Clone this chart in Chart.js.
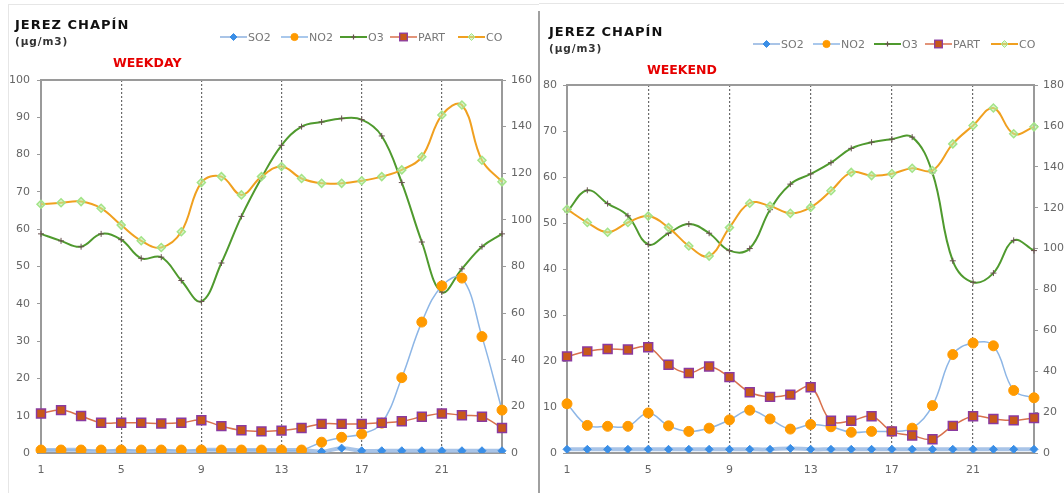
<!DOCTYPE html>
<html>
<head>
<meta charset="utf-8">
<script src="https://cdn.jsdelivr.net/npm/chart.js@4.4.1/dist/chart.umd.min.js"></script>
<style>
html,body{margin:0;padding:0;background:#fff;}
#wrap{position:relative;width:1064px;height:493px;overflow:hidden;background:#fff;font-family:"DejaVu Sans",sans-serif;}
.cv{position:absolute;top:0;}
.t{position:absolute;white-space:nowrap;line-height:1;}
.title{font-weight:bold;font-size:13px;letter-spacing:1px;color:#111;}
.unit{font-size:10.5px;font-weight:bold;letter-spacing:0.9px;color:#333;}
.period{font-weight:bold;font-size:12.5px;color:#e60000;}
.leg{position:absolute;height:12px;display:flex;align-items:center;font-size:11px;color:#777;white-space:nowrap;line-height:1;}
.leg svg{margin-right:1px;}
</style>
</head>
<body>
<div id="wrap">
  <div style="position:absolute;left:8px;top:4px;width:530px;height:495px;border-left:1px solid #e6e6e6;border-top:1px solid #e6e6e6;"></div>
  <div style="position:absolute;left:539px;top:3px;width:530px;height:1px;background:#e6e6e6;"></div>
  <div style="position:absolute;left:538px;top:11px;width:2px;height:490px;background:#a0a0a0;"></div>

  <div class="cv" style="left:0;width:534px;height:493px;"><canvas id="cL" width="534" height="493"></canvas></div>
  <div class="cv" style="left:537px;width:527px;height:493px;"><canvas id="cR" width="527" height="493"></canvas></div>

  <div class="t title" style="left:15px;top:18px;">JEREZ CHAPÍN</div>
  <div class="t unit" style="left:15px;top:36px;">(µg/m3)</div>
  <div class="t period" style="left:113px;top:57px;">WEEKDAY</div>

  <div class="t title" style="left:549px;top:25px;">JEREZ CHAPÍN</div>
  <div class="t unit" style="left:549px;top:43px;">(µg/m3)</div>
  <div class="t period" style="left:647px;top:64px;">WEEKEND</div>

  <div id="legL"></div>
  <div id="legR"></div>
</div>

<script>
// ---- data ----
const HOURS = ['1','2','3','4','5','6','7','8','9','10','11','12','13','14','15','16','17','18','19','20','21','22','23','24'];
const TICK_HOURS = ['1','5','9','13','17','21'];
const SERIES = ['SO2','NO2','O3','PART','CO'];

// WEEKDAY (SO2, NO2, PART, CO on left axis; O3 on right axis)
const wdSO2  = [0.8,0.8,0.8,0,0.8,0,0.8,0,0.8,0.8,0.8,0.8,0.8,0.8,0.4,1.3,0.6,0.6,0.6,0.6,0.6,0.6,0.6,0.6];
const wdNO2  = [0.8,0.8,0.8,0.8,0.8,0.8,0.8,0.8,0.8,0.8,0.8,0.8,0.8,0.8,2.9,4.2,5.1,8.0,20.2,35.1,44.8,46.9,31.2,11.5];
const wdO3   = [94,91,88.5,94,91.5,83.5,84,74,65,81.5,101.5,118,132,140,142,143.5,143,136,116,90.5,69,79,88.5,94];
const wdPART = [10.6,11.5,9.9,8.1,8.1,8.1,7.9,8.1,8.8,7.2,6.1,5.8,6.0,6.7,7.8,7.8,7.8,8.1,8.5,9.7,10.6,10.1,9.7,6.7];
const wdCO   = [66.7,67.1,67.4,65.6,61.1,56.9,55.1,59.3,72.5,74.1,69.2,74.1,76.8,73.6,72.3,72.3,73.0,74.1,75.9,79.4,90.6,93.3,78.5,72.7];

// WEEKEND
const weSO2  = [0.8,0.8,0.8,0.8,0.8,0.8,0.8,0.8,0.8,0.8,0.8,1.0,0.8,0.8,0.8,0.8,0.8,0.8,0.8,0.8,0.8,0.8,0.8,0.8];
const weNO2  = [10.7,6.0,5.8,5.8,8.7,5.9,4.7,5.4,7.2,9.3,7.4,5.2,6.2,5.7,4.5,4.7,4.7,5.4,10.3,21.4,23.9,23.3,13.6,12.0];
const weO3   = [118,128.5,122,116,102,107.5,112,107.5,99,100,119,131.5,136.5,142,149,152,153.5,154.5,137,94,83.5,88,104,99];
const wePART = [21.0,22.1,22.6,22.5,23.0,19.2,17.4,18.8,16.5,13.2,12.2,12.7,14.3,7.0,7.0,8.0,4.7,3.8,3.0,5.9,8.0,7.4,7.1,7.6];
const weCO   = [53.0,50.1,48.0,50.1,51.5,49.0,45.0,42.8,49.0,54.3,53.7,52.1,53.4,57.0,61.0,60.3,60.7,61.9,61.4,67.2,71.2,75.0,69.4,70.9];

// axis ranges
const WD_LEFT = {min:0,max:100,step:10}, WD_RIGHT = {min:0,max:160,step:20};
const WE_LEFT = {min:0,max:80,step:10},  WE_RIGHT = {min:0,max:180,step:20};

// ---- styles ----
const STYLE = {
  SO2:  {line:'rgba(160,190,228,0.9)', lw:4,   ps:'rectRot', r:4,   bg:'#3a8ee6', bc:'#3a8ee6', bw:1, order:2, axis:'y'},
  NO2:  {line:'#8db6e6',               lw:1.5, ps:'circle',  r:5,   bg:'#ff9a00', bc:'#ff9a00', bw:1, order:1, axis:'y'},
  O3:   {line:'#4f9a2e',               lw:2,   ps:'cross',   r:3,   bg:'#6a5050', bc:'#6a5050', bw:1, order:4, axis:'y2'},
  PART: {line:'#d9714c',               lw:1.5, ps:'rect',    r:6.3, bg:'#c8581a', bc:'#8a3aa0', bw:1.5, order:0, axis:'y'},
  CO:   {line:'#f0a020',               lw:2,   ps:'rectRot', r:4,   bg:'rgba(185,238,165,0.55)', bc:'#a3e488', bw:1.5, order:3, axis:'y'}
};

Chart.defaults.font.family = '"DejaVu Sans", sans-serif';

function makeDatasets(vals){
  return SERIES.map((name,i)=>{
    const s = STYLE[name];
    return {
      label:name, data:vals[i], yAxisID:s.axis, order:s.order,
      borderColor:s.line, borderWidth:s.lw, tension:0.4, fill:false,
      pointStyle:s.ps, pointRadius:s.r, pointBackgroundColor:s.bg,
      pointBorderColor:s.bc, pointBorderWidth:s.bw
    };
  });
}

const tickFont = {family:'"DejaVu Sans", sans-serif', size:11};
const AX = '#9a9a9a';

function makeChart(id, vals, L, R, geo){
  return new Chart(document.getElementById(id), {
    type:'line',
    data:{labels:HOURS, datasets:makeDatasets(vals)},
    options:{
      responsive:false, animation:false,
      layout:{padding:{top:geo.top,left:0,right:0,bottom:0}},
      plugins:{legend:{display:false}, tooltip:{enabled:false}, title:{display:false}},
      scales:{
        x:{type:'category', position:'bottom',
           ticks:{autoSkip:false, maxRotation:0, minRotation:0, padding:11, color:'#666', font:tickFont,
                  callback:(v,i)=> TICK_HOURS.includes(HOURS[i]) ? HOURS[i] : ''},
           grid:{drawTicks:false, lineWidth:1.2,
                 color:(c)=> (c.index>0 && TICK_HOURS.includes(HOURS[c.index])) ? '#6a6a6a' : 'rgba(0,0,0,0)'},
           border:{color:AX, width:2, dash:[2,2]},
           afterFit:(s)=>{s.height=40;}},
        xTop:{type:'category', position:'top', ticks:{display:false},
           grid:{display:false, drawTicks:false}, border:{color:AX, width:2},
           afterFit:(s)=>{s.height=0;}},
        y:{position:'left', min:L.min, max:L.max,
           ticks:{stepSize:L.step, padding:geo.lpad, color:'#666', font:tickFont},
           grid:{drawOnChartArea:false, drawTicks:true, tickLength:4, color:AX},
           border:{color:AX, width:2},
           afterFit:(s)=>{s.width=geo.lw;}},
        y2:{position:'right', min:R.min, max:R.max,
           ticks:{stepSize:R.step, padding:5, color:'#666', font:tickFont},
           grid:{drawOnChartArea:false, drawTicks:true, tickLength:4, color:AX},
           border:{color:AX, width:2},
           afterFit:(s)=>{s.width=geo.rw;}}
      }
    }
  });
}

makeChart('cL', [wdSO2,wdNO2,wdO3,wdPART,wdCO], WD_LEFT, WD_RIGHT, {top:80, lw:41, rw:32, lpad:7});
makeChart('cR', [weSO2,weNO2,weO3,wePART,weCO], WE_LEFT, WE_RIGHT, {top:85, lw:30, rw:30, lpad:6});

// ---- HTML legends ----
function iconSVG(name){
  const s = STYLE[name];
  let m = '';
  const cx = 13.5, cy = 6;
  if (s.ps==='circle') m = `<circle cx="${cx}" cy="${cy}" r="3.6" fill="${s.bg}" stroke="${s.bc}" stroke-width="1"/>`;
  else if (s.ps==='rect') m = `<rect x="${cx-3.8}" y="${cy-3.8}" width="7.6" height="7.6" fill="${s.bg}" stroke="${s.bc}" stroke-width="1.3"/>`;
  else if (s.ps==='rectRot') m = `<polygon points="${cx},${cy-3.5} ${cx+3.5},${cy} ${cx},${cy+3.5} ${cx-3.5},${cy}" fill="${s.bg}" stroke="${s.bc}" stroke-width="1"/>`;
  else if (s.ps==='cross') m = `<path d="M${cx-2.5} ${cy}H${cx+2.5}M${cx} ${cy-2.5}V${cy+2.5}" stroke="${s.bc}" stroke-width="1.2"/>`;
  const lw = Math.min(s.lw, 2);
  return `<svg width="27" height="12" viewBox="0 0 27 12"><line x1="0" y1="${cy}" x2="27" y2="${cy}" stroke="${s.line}" stroke-width="${lw}"/>${m}</svg>`;
}
function buildLegend(elId, xs, yc){
  const el = document.getElementById(elId);
  SERIES.forEach((name,i)=>{
    const d = document.createElement('div');
    d.className = 'leg';
    d.style.left = xs[i] + 'px';
    d.style.top = (yc-6) + 'px';
    d.innerHTML = iconSVG(name) + '<span>' + name + '</span>';
    el.appendChild(d);
  });
}
buildLegend('legL', [220,281,340,390,458], 37);
buildLegend('legR', [753,813,874,925,991], 44);
</script>
</body>
</html>
